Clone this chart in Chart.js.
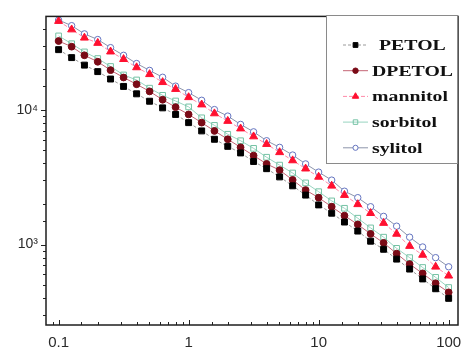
<!DOCTYPE html>
<html><head><meta charset="utf-8">
<script src="https://cdn.jsdelivr.net/npm/chart.js@4.4.1/dist/chart.umd.min.js"></script>
<style>html,body{margin:0;padding:0;background:#fff;}</style>
</head><body>
<canvas id="c" width="467" height="352"></canvas>
<script>
// ---- data ----
const frequencies = [0.1,0.126,0.158,0.2,0.251,0.316,0.398,0.501,0.631,0.794,
  1,1.26,1.58,2,2.51,3.16,3.98,5.01,6.31,7.94,
  10,12.6,15.8,20,25.1,31.6,39.8,50.1,63.1,79.4,100];
const seriesNames = ['PETOL','DPETOL','mannitol','sorbitol','sylitol'];
const petol = [27990,24430,21480,19230,16940,14930,13150,11590,10350,9250,
  8040,6980,6050,5360,4790,4140,3660,3180,2730,2330,
  1970,1710,1470,1260,1060,923,780,658,556,470,399];
const dpetol = [32430,29440,25410,22750,19720,17380,15490,13710,11890,10470,
  9250,8040,6980,6050,5270,4580,3970,3570,3020,2540,
  2230,1910,1640,1410,1200,1030,857,716,611,516,442];
const mannitol = [45600,39450,34280,31330,27040,23770,20650,18370,16030,14260,
  12390,10940,9400,8260,7260,6340,5570,4840,4210,3660,
  3180,2730,2330,1990,1710,1445,1200,975,838,684,587];
const sorbitol = [35400,30970,26920,24040,20990,18160,16670,14490,12820,11640,
  10520,8730,7670,6590,5900,5180,4450,3890,3400,2870,
  2470,2110,1860,1570,1330,1135,938,800,676,571,480];
const sylitol = [46450,42170,36640,33270,28970,25410,22080,19630,17460,15000,
  13430,11780,10050,8990,7800,6870,5900,5270,4620,3970,
  3450,3010,2490,2230,1910,1620,1370,1135,960,800,684];
const xTickLabels = ['0.1','1','10','100'];
const xMajorTicks = [0.1,1,10,100];
const yMajorTicks = [1000,10000];
const yTickLabels = ['10³','10⁴'];

const seriesValues = [petol,dpetol,mannitol,sorbitol,sylitol];
const styles = [
  {line:'#9a9a9a', dash:[3,2], ps:'rect', r:4.2, fill:'#000000', stroke:'#000000'},
  {line:'#c46474', dash:[], ps:'circle', r:3.4, fill:'#7a0a16', stroke:'#7a0a16'},
  {line:'#ff8aa8', dash:[4,2], ps:'triangle', r:4.6, fill:'#ff1030', stroke:'#ff1030'},
  {line:'#98d4c0', dash:[], ps:'rect', r:4.0, fill:'rgba(255,255,255,0)', stroke:'#74c2a4'},
  {line:'#8c94aa', dash:[], ps:'circle', r:3.2, fill:'#ffffff', stroke:'#6474c0'}
];

const datasets = seriesNames.map((name,i)=>({
  label: name,
  data: frequencies.map((f,j)=>({x:f, y:seriesValues[i][j]})),
  borderColor: styles[i].line,
  borderDash: styles[i].dash,
  borderWidth: 1,
  pointStyle: styles[i].ps,
  pointRadius: styles[i].r,
  pointBackgroundColor: styles[i].fill,
  pointBorderColor: styles[i].stroke,
  pointBorderWidth: 1,
  tension: 0,
  fill: false
}));

function isPow10(v){ const l=Math.log10(v); return Math.abs(l-Math.round(l))<1e-6; }

const framePlugin = {
  id:'frame',
  afterDraw(chart){
    const {ctx, chartArea:a, scales:{x,y}} = chart;
    ctx.save();
    // ticks
    ctx.strokeStyle = '#222'; ctx.lineWidth = 1;
    x.ticks.forEach(t=>{
      const v=t.value; if (v<=x.min*1.0001 || v>=x.max*0.9999) return;
      const px = Math.round(x.getPixelForValue(v))+0.5;
      const len = isPow10(v)?5:3;
      ctx.beginPath(); ctx.moveTo(px,a.bottom); ctx.lineTo(px,a.bottom-len); ctx.stroke();
    });
    y.ticks.forEach(t=>{
      const v=t.value; if (v<=y.min*1.0001 || v>=y.max*0.9999) return;
      const py = Math.round(y.getPixelForValue(v))+0.5;
      const len = isPow10(v)?5:3;
      ctx.beginPath(); ctx.moveTo(a.left,py); ctx.lineTo(a.left-len,py); ctx.stroke();
    });
    // frame
    ctx.strokeStyle = '#1e1e1e'; ctx.lineWidth = 1.5;
    ctx.strokeRect(a.left, a.top, a.right-a.left, a.bottom-a.top);
    // legend
    const bx=326, by=15, bw=131, bh=148;
    ctx.fillStyle='#fff'; ctx.fillRect(bx,by,bw,bh);
    ctx.strokeStyle='#8a8a8a'; ctx.lineWidth=1;
    ctx.strokeRect(bx+0.5,by+0.5,bw,bh);
    chart.data.datasets.forEach((ds,i)=>{
      const ly = 45 + i*25.7;
      ctx.save();
      ctx.strokeStyle = ds.borderColor; ctx.lineWidth=1; ctx.setLineDash(ds.borderDash||[]);
      ctx.beginPath(); ctx.moveTo(343,ly); ctx.lineTo(368,ly); ctx.stroke();
      ctx.setLineDash([]);
      ctx.fillStyle = ds.pointBackgroundColor; ctx.strokeStyle = ds.pointBorderColor; ctx.lineWidth=1;
      Chart.helpers.drawPoint(ctx, {pointStyle:ds.pointStyle, radius:ds.pointRadius*0.8, rotation:0, borderWidth:1}, 355.5, ly);
      ctx.restore();
      ctx.save();
      ctx.fillStyle='#111';
      ctx.font='bold 15px "Liberation Serif", "DejaVu Serif", serif';
      ctx.textBaseline='middle'; ctx.textAlign='left';
      ctx.translate(i===0?379:372, ly+1);
      ctx.scale(1.32,1);
      ctx.fillText(ds.label,0,0);
      ctx.restore();
    });
    ctx.restore();
  }
};

new Chart(document.getElementById('c'), {
  type:'line',
  data:{datasets},
  options:{
    responsive:false, animation:false, devicePixelRatio:1,
    layout:{padding:{top:13,right:4,left:0,bottom:0}},
    plugins:{legend:{display:false}, tooltip:{enabled:false}},
    scales:{
      x:{
        type:'logarithmic', min:0.08, max:118,
        border:{display:false},
        grid:{display:false, drawTicks:false},
        afterFit(s){ s.height = 27; },
        ticks:{
          autoSkip:false, maxRotation:0, padding:9,
          color:'#2a2a2a', font:{family:'"Liberation Sans", Arial, sans-serif', size:15},
          callback(v){ const i = xMajorTicks.findIndex(m=>Math.abs(m-v)/m<1e-6); return i>=0?xTickLabels[i]:''; }
        }
      },
      y:{
        type:'logarithmic', min:253, max:49400,
        border:{display:false},
        grid:{display:false, drawTicks:false},
        afterFit(s){ s.width = 46; },
        ticks:{
          autoSkip:false, padding:8,
          color:'#2a2a2a', font:{family:'"Liberation Sans", Arial, sans-serif', size:14},
          callback(v){ const i = yMajorTicks.findIndex(m=>Math.abs(m-v)/m<1e-6); return i>=0?yTickLabels[i]:''; }
        }
      }
    }
  },
  plugins:[framePlugin]
});
</script>
</body></html>
